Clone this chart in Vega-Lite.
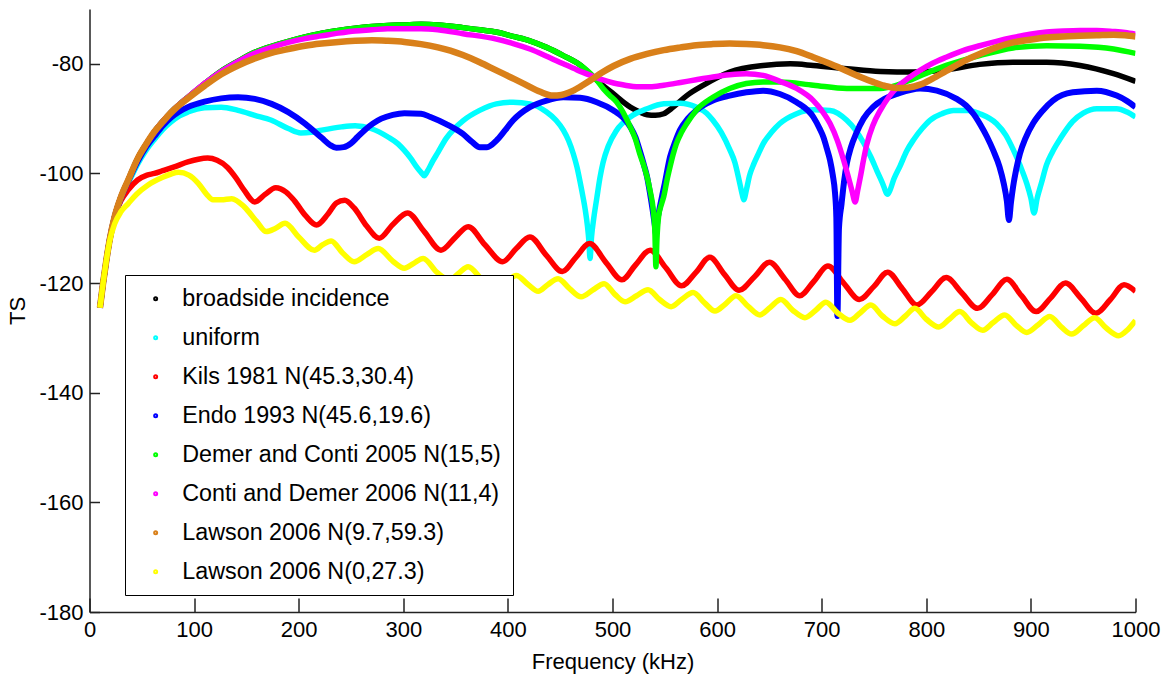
{
"$schema": "https://vega.github.io/schema/vega-lite/v6.json",
"width": 1046, "height": 603,
"autosize": {"type": "none"},
"padding": {"left": 89.5, "top": 9, "right": 35.5, "bottom": 67},
"background": "white",
"config": {
  "view": {"stroke": null},
  "font": "Liberation Sans",
  "axis": {"grid": false, "domainColor": "#222222", "tickColor": "#222222", "domainWidth": 1.5, "tickWidth": 1.5, "labelFont": "Liberation Sans", "labelFontSize": 22, "labelColor": "black", "titleFont": "Liberation Sans", "titleFontSize": 22, "titleFontWeight": "normal", "titleColor": "black", "labelOverlap": false, "labelFlush": false},
  "legend": {"orient": "none", "legendX": 35.5, "legendY": 266, "strokeColor": "black", "fillColor": "white", "padding": 12, "labelFont": "Liberation Sans", "labelFontSize": 23.3, "labelColor": "black", "labelLimit": 0, "symbolType": "circle", "symbolSize": 9, "symbolStrokeWidth": 2, "symbolOffset": 7, "labelOffset": 15, "rowPadding": 15, "cornerRadius": 0, "strokeWidth": 1}
},
"datasets": {
"black": [{"f":10,"t":-124.5},{"f":13,"t":-120},{"f":16,"t":-116},{"f":19.3,"t":-112.1},{"f":24,"t":-107.9},{"f":30,"t":-104.3},{"f":37,"t":-101.2},{"f":46,"t":-97.3},{"f":54,"t":-94.7},{"f":62,"t":-92.4},{"f":70,"t":-90.5},{"f":78,"t":-88.8},{"f":86,"t":-87.4},{"f":94,"t":-86.1},{"f":110,"t":-83.6},{"f":126,"t":-81.3},{"f":142,"t":-79.5},{"f":158,"t":-77.9},{"f":174,"t":-76.8},{"f":190,"t":-75.9},{"f":206,"t":-75.1},{"f":222,"t":-74.4},{"f":238,"t":-73.9},{"f":254,"t":-73.5},{"f":270,"t":-73.2},{"f":285,"t":-73},{"f":301,"t":-72.9},{"f":317,"t":-72.8},{"f":333,"t":-72.9},{"f":357,"t":-73.4},{"f":373,"t":-73.8},{"f":389,"t":-74.2},{"f":405,"t":-75},{"f":421,"t":-75.8},{"f":437,"t":-77},{"f":453,"t":-78.5},{"f":469,"t":-80.2},{"f":485,"t":-83},{"f":501,"t":-85.5},{"f":517,"t":-87.9},{"f":526,"t":-88.8},{"f":533,"t":-89.3},{"f":541,"t":-89.4},{"f":549,"t":-89.1},{"f":558,"t":-87.9},{"f":571,"t":-85.8},{"f":587,"t":-83.9},{"f":612,"t":-81.5},{"f":644,"t":-80.3},{"f":670,"t":-80},{"f":692,"t":-80.3},{"f":724,"t":-80.9},{"f":756,"t":-81.4},{"f":788,"t":-81.5},{"f":819,"t":-81.1},{"f":851,"t":-80.1},{"f":883,"t":-79.7},{"f":915,"t":-79.7},{"f":947,"t":-80.3},{"f":979,"t":-81.8},{"f":1000,"t":-83.2}],
"cyan": [{"f":10,"t":-124.5},{"f":13,"t":-120},{"f":16,"t":-116},{"f":19.3,"t":-112.1},{"f":24,"t":-108},{"f":30,"t":-104.6},{"f":37,"t":-101.8},{"f":46,"t":-98.3},{"f":54,"t":-95.8},{"f":62,"t":-93.8},{"f":70,"t":-92},{"f":78,"t":-90.6},{"f":86,"t":-89.5},{"f":94,"t":-88.8},{"f":110,"t":-88},{"f":126,"t":-87.9},{"f":142,"t":-88.5},{"f":158,"t":-89.4},{"f":174,"t":-90.3},{"f":190,"t":-91.8},{"f":202,"t":-92.6},{"f":212,"t":-92.5},{"f":222,"t":-92.1},{"f":241,"t":-91.5},{"f":254,"t":-91.3},{"f":269,"t":-91.8},{"f":285,"t":-93.3},{"f":295,"t":-94.6},{"f":301,"t":-95.8},{"f":307,"t":-97.2},{"f":312,"t":-98.6},{"f":317,"t":-99.8},{"f":320,"t":-100.4},{"f":323,"t":-99.6},{"f":328,"t":-97.8},{"f":333,"t":-96.2},{"f":341,"t":-93.6},{"f":349,"t":-91.8},{"f":357,"t":-90.4},{"f":373,"t":-88.5},{"f":389,"t":-87.3},{"f":405,"t":-87},{"f":421,"t":-87.3},{"f":437,"t":-88.8},{"f":446,"t":-90.3},{"f":453,"t":-92.1},{"f":458,"t":-94},{"f":462.5,"t":-96.4},{"f":466,"t":-98.8},{"f":469,"t":-101.5},{"f":472,"t":-104.5},{"f":474,"t":-106.7},{"f":476,"t":-109.5},{"f":477.5,"t":-112.5},{"f":478.5,"t":-115.5},{"f":480,"t":-111.5},{"f":482,"t":-108.3},{"f":485,"t":-104.5},{"f":488,"t":-100.8},{"f":491,"t":-98},{"f":496,"t":-95},{"f":504,"t":-92.1},{"f":517,"t":-89.7},{"f":533,"t":-88.2},{"f":549,"t":-87.3},{"f":565,"t":-87.2},{"f":580,"t":-87.9},{"f":590,"t":-89},{"f":596,"t":-90.3},{"f":604,"t":-92.5},{"f":612,"t":-95.6},{"f":617,"t":-98},{"f":621,"t":-101.2},{"f":624,"t":-103.8},{"f":625.5,"t":-104.8},{"f":628,"t":-103},{"f":631,"t":-100.4},{"f":635,"t":-98.3},{"f":640,"t":-96.2},{"f":644,"t":-94.6},{"f":652,"t":-92.5},{"f":660,"t":-90.9},{"f":676,"t":-89.1},{"f":692,"t":-88.4},{"f":708,"t":-88.5},{"f":724,"t":-90.3},{"f":732,"t":-92},{"f":740,"t":-94.4},{"f":747,"t":-97},{"f":753,"t":-99.6},{"f":758,"t":-101.7},{"f":763,"t":-103.8},{"f":765,"t":-103.2},{"f":769,"t":-101},{"f":775,"t":-98.6},{"f":781,"t":-96},{"f":788,"t":-93.8},{"f":796,"t":-91.8},{"f":803.5,"t":-90.3},{"f":815,"t":-89.1},{"f":826,"t":-88.5},{"f":840,"t":-88.5},{"f":851,"t":-89.1},{"f":867,"t":-90.9},{"f":876,"t":-93},{"f":883,"t":-95.6},{"f":890,"t":-98.7},{"f":896,"t":-101.8},{"f":900,"t":-104.5},{"f":903,"t":-107.2},{"f":906,"t":-104.5},{"f":910,"t":-101.8},{"f":915,"t":-98.4},{"f":920,"t":-96.3},{"f":925,"t":-94.6},{"f":932,"t":-92.5},{"f":940,"t":-90.5},{"f":950,"t":-89},{"f":963,"t":-88.2},{"f":982,"t":-88.2},{"f":992,"t":-88.8},{"f":1000,"t":-89.7}],
"red": [{"f":10,"t":-124.5},{"f":13,"t":-120},{"f":16,"t":-116},{"f":19.3,"t":-112.1},{"f":24,"t":-108.3},{"f":27,"t":-106.3},{"f":30,"t":-105},{"f":37,"t":-103},{"f":46,"t":-101.2},{"f":55,"t":-100.3},{"f":62,"t":-100},{"f":70,"t":-99.5},{"f":81,"t":-98.8},{"f":94,"t":-97.9},{"f":104,"t":-97.4},{"f":113,"t":-97.2},{"f":122,"t":-97.6},{"f":132,"t":-98.9},{"f":140,"t":-100.8},{"f":148,"t":-103.1},{"f":158,"t":-105.2},{"f":168,"t":-103.8},{"f":178,"t":-102.6},{"f":188,"t":-103.4},{"f":196,"t":-105},{"f":207,"t":-107.8},{"f":217,"t":-109.4},{"f":228,"t":-107.4},{"f":236,"t":-105.4},{"f":244,"t":-104.9},{"f":253,"t":-106.3},{"f":265,"t":-109.6},{"f":277,"t":-111.8},{"f":290,"t":-109.3},{"f":304,"t":-107.2},{"f":320,"t":-110.6},{"f":336,"t":-114},{"f":350,"t":-111.6},{"f":362,"t":-109.7},{"f":378,"t":-113},{"f":395,"t":-116.1},{"f":408,"t":-113.7},{"f":421,"t":-111.6},{"f":437,"t":-115},{"f":452,"t":-117.9},{"f":465,"t":-115.3},{"f":478,"t":-112.8},{"f":494,"t":-116.3},{"f":509,"t":-119.4},{"f":522,"t":-116.7},{"f":536,"t":-114},{"f":551,"t":-117.2},{"f":566,"t":-120.5},{"f":580,"t":-118},{"f":593,"t":-115.3},{"f":607,"t":-118.4},{"f":621,"t":-121.3},{"f":636,"t":-118.8},{"f":650,"t":-116.2},{"f":665,"t":-119.3},{"f":679,"t":-122.3},{"f":692,"t":-119.8},{"f":706,"t":-116.9},{"f":721,"t":-120},{"f":736,"t":-123},{"f":750,"t":-120.6},{"f":763,"t":-118},{"f":777,"t":-121},{"f":791,"t":-124},{"f":805,"t":-121.6},{"f":819,"t":-119},{"f":834,"t":-121.8},{"f":849,"t":-124.6},{"f":863,"t":-122.1},{"f":877,"t":-119.3},{"f":891,"t":-122.3},{"f":905,"t":-125.2},{"f":919,"t":-122.7},{"f":933,"t":-120},{"f":948,"t":-122.8},{"f":962,"t":-125.5},{"f":976,"t":-123},{"f":989,"t":-120.3},{"f":1000,"t":-121.5}],
"blue": [{"f":10,"t":-124.5},{"f":13,"t":-120},{"f":16,"t":-116},{"f":19.3,"t":-112.1},{"f":24,"t":-108},{"f":30,"t":-104.5},{"f":37,"t":-101.4},{"f":46,"t":-97.8},{"f":54,"t":-95.2},{"f":62,"t":-93.2},{"f":70,"t":-91.3},{"f":78,"t":-89.8},{"f":86,"t":-88.7},{"f":94,"t":-87.9},{"f":110,"t":-86.9},{"f":126,"t":-86.3},{"f":142,"t":-86.1},{"f":158,"t":-86.4},{"f":174,"t":-87.3},{"f":190,"t":-88.8},{"f":206,"t":-90.9},{"f":222,"t":-93.5},{"f":230,"t":-94.8},{"f":236,"t":-95.3},{"f":243,"t":-95.2},{"f":250,"t":-94.5},{"f":256,"t":-93.4},{"f":263,"t":-92.1},{"f":279,"t":-90},{"f":290,"t":-89.3},{"f":301,"t":-89},{"f":317,"t":-89.1},{"f":326,"t":-89.7},{"f":341,"t":-91},{"f":357,"t":-92.8},{"f":366,"t":-94.3},{"f":373,"t":-95.2},{"f":380,"t":-95.2},{"f":389,"t":-94},{"f":397,"t":-92.2},{"f":405,"t":-90.3},{"f":421,"t":-87.9},{"f":437,"t":-86.7},{"f":453,"t":-86.1},{"f":469,"t":-86.2},{"f":485,"t":-87},{"f":501,"t":-88.5},{"f":510,"t":-89.8},{"f":517,"t":-91.5},{"f":522,"t":-93.4},{"f":526,"t":-95.8},{"f":530,"t":-98.4},{"f":533,"t":-100.6},{"f":536,"t":-103.8},{"f":538.5,"t":-106.8},{"f":540.5,"t":-109.5},{"f":541.5,"t":-111},{"f":543,"t":-108.5},{"f":545.4,"t":-106},{"f":548,"t":-103.6},{"f":550,"t":-101.8},{"f":555,"t":-97},{"f":560,"t":-94.2},{"f":564.5,"t":-92.1},{"f":572,"t":-90},{"f":580,"t":-88.5},{"f":596,"t":-86.7},{"f":612,"t":-85.8},{"f":628,"t":-85.2},{"f":644,"t":-84.9},{"f":660,"t":-85.5},{"f":676,"t":-87},{"f":692,"t":-89.7},{"f":698,"t":-91.8},{"f":701.5,"t":-93.3},{"f":705,"t":-95.5},{"f":708,"t":-97.6},{"f":710.5,"t":-100.2},{"f":712.7,"t":-103.5},{"f":714,"t":-108},{"f":715,"t":-126},{"f":716.5,"t":-110},{"f":719,"t":-105.5},{"f":721.5,"t":-101.3},{"f":724,"t":-98.2},{"f":728,"t":-95.2},{"f":733,"t":-92.7},{"f":740,"t":-90},{"f":749,"t":-87.9},{"f":760,"t":-86.4},{"f":772,"t":-85.5},{"f":794,"t":-84.5},{"f":810,"t":-84.9},{"f":829,"t":-86.4},{"f":838,"t":-87.6},{"f":845,"t":-89.1},{"f":852,"t":-91.2},{"f":858,"t":-93.3},{"f":864,"t":-95.8},{"f":870,"t":-98.8},{"f":874,"t":-101.8},{"f":877,"t":-105},{"f":879,"t":-108.5},{"f":881,"t":-105.2},{"f":883,"t":-102.4},{"f":886,"t":-99.2},{"f":889.5,"t":-96.4},{"f":895,"t":-93.5},{"f":902,"t":-90.9},{"f":911,"t":-88.6},{"f":921,"t":-86.7},{"f":930,"t":-85.7},{"f":940,"t":-85.2},{"f":963,"t":-84.9},{"f":982,"t":-85.8},{"f":992,"t":-86.8},{"f":1000,"t":-87.9}],
"green": [{"f":10,"t":-124.5},{"f":13,"t":-120},{"f":16,"t":-116},{"f":19.3,"t":-112.1},{"f":24,"t":-107.9},{"f":30,"t":-104.3},{"f":37,"t":-101.2},{"f":46,"t":-97.3},{"f":54,"t":-94.7},{"f":62,"t":-92.4},{"f":70,"t":-90.5},{"f":78,"t":-88.8},{"f":86,"t":-87.4},{"f":94,"t":-86.1},{"f":110,"t":-83.6},{"f":126,"t":-81.3},{"f":142,"t":-79.5},{"f":158,"t":-77.9},{"f":174,"t":-76.8},{"f":190,"t":-75.9},{"f":206,"t":-75.1},{"f":222,"t":-74.4},{"f":238,"t":-73.9},{"f":254,"t":-73.5},{"f":270,"t":-73.2},{"f":285,"t":-73},{"f":301,"t":-72.9},{"f":317,"t":-72.8},{"f":333,"t":-72.9},{"f":357,"t":-73.4},{"f":373,"t":-73.8},{"f":389,"t":-74.2},{"f":405,"t":-75},{"f":421,"t":-75.8},{"f":437,"t":-77},{"f":453,"t":-78.5},{"f":469,"t":-80.2},{"f":485,"t":-83},{"f":491,"t":-84.5},{"f":497,"t":-85.7},{"f":504,"t":-87},{"f":510,"t":-88.8},{"f":517,"t":-91.5},{"f":522,"t":-93.8},{"f":526,"t":-96.4},{"f":530,"t":-98.6},{"f":533,"t":-100.6},{"f":536,"t":-103.2},{"f":539,"t":-106.7},{"f":540.5,"t":-110.5},{"f":541.5,"t":-117},{"f":542.5,"t":-112},{"f":544,"t":-108},{"f":547,"t":-105.5},{"f":549,"t":-104.2},{"f":552,"t":-101.3},{"f":555,"t":-98.8},{"f":558,"t":-96.5},{"f":561,"t":-94.6},{"f":566,"t":-92.5},{"f":571,"t":-90.9},{"f":580,"t":-88.5},{"f":596,"t":-86.1},{"f":612,"t":-84.5},{"f":628,"t":-83.6},{"f":644,"t":-83.3},{"f":660,"t":-83.3},{"f":692,"t":-83.9},{"f":724,"t":-84.5},{"f":756,"t":-84.5},{"f":772,"t":-83.9},{"f":788,"t":-82.7},{"f":819,"t":-80.3},{"f":851,"t":-78.5},{"f":883,"t":-77.1},{"f":915,"t":-76.7},{"f":947,"t":-76.8},{"f":979,"t":-77.3},{"f":1000,"t":-78.1}],
"magenta": [{"f":10,"t":-124.5},{"f":13,"t":-120},{"f":16,"t":-116},{"f":19.3,"t":-112.1},{"f":24,"t":-107.9},{"f":30,"t":-104.3},{"f":37,"t":-101.2},{"f":46,"t":-97.3},{"f":54,"t":-94.7},{"f":62,"t":-92.4},{"f":70,"t":-90.5},{"f":78,"t":-88.8},{"f":86,"t":-87.4},{"f":94,"t":-86.1},{"f":110,"t":-83.6},{"f":126,"t":-81.4},{"f":142,"t":-79.6},{"f":158,"t":-78.1},{"f":174,"t":-77},{"f":190,"t":-76.1},{"f":206,"t":-75.4},{"f":222,"t":-74.9},{"f":238,"t":-74.4},{"f":254,"t":-74},{"f":270,"t":-73.8},{"f":285,"t":-73.6},{"f":301,"t":-73.6},{"f":317,"t":-73.6},{"f":333,"t":-73.8},{"f":357,"t":-74.5},{"f":389,"t":-75.5},{"f":405,"t":-76.3},{"f":421,"t":-77.3},{"f":437,"t":-78.6},{"f":453,"t":-80},{"f":466,"t":-81.1},{"f":479,"t":-82.1},{"f":490,"t":-82.9},{"f":501,"t":-83.5},{"f":512,"t":-83.9},{"f":523,"t":-84.2},{"f":536,"t":-84.2},{"f":549,"t":-83.9},{"f":565,"t":-83.4},{"f":580,"t":-82.9},{"f":596,"t":-82.4},{"f":612,"t":-82},{"f":628,"t":-81.8},{"f":644,"t":-82.1},{"f":660,"t":-83.2},{"f":676,"t":-84.5},{"f":692,"t":-86.7},{"f":700,"t":-88.5},{"f":708,"t":-90.9},{"f":715,"t":-94},{"f":721,"t":-97.6},{"f":725,"t":-100.3},{"f":729,"t":-103.2},{"f":732,"t":-105.2},{"f":734.5,"t":-103},{"f":737,"t":-100.6},{"f":740,"t":-97.5},{"f":743,"t":-94.8},{"f":749,"t":-91.2},{"f":756,"t":-88.5},{"f":764,"t":-86.1},{"f":772,"t":-84.3},{"f":783,"t":-82.6},{"f":794,"t":-81.2},{"f":806,"t":-79.9},{"f":819,"t":-78.8},{"f":835,"t":-77.6},{"f":851,"t":-76.7},{"f":867,"t":-75.9},{"f":883,"t":-75.2},{"f":899,"t":-74.6},{"f":915,"t":-74.2},{"f":931,"t":-74},{"f":947,"t":-73.9},{"f":963,"t":-73.9},{"f":979,"t":-74.1},{"f":990,"t":-74.3},{"f":1000,"t":-74.6}],
"orange": [{"f":10,"t":-124.5},{"f":13,"t":-120},{"f":16,"t":-116},{"f":19.3,"t":-112.1},{"f":24,"t":-107.9},{"f":30,"t":-104.3},{"f":37,"t":-101.2},{"f":46,"t":-97.3},{"f":54,"t":-94.7},{"f":62,"t":-92.4},{"f":70,"t":-90.6},{"f":78,"t":-88.9},{"f":86,"t":-87.5},{"f":94,"t":-86.3},{"f":110,"t":-84},{"f":126,"t":-81.9},{"f":142,"t":-80.3},{"f":158,"t":-79},{"f":174,"t":-78},{"f":190,"t":-77.3},{"f":206,"t":-76.7},{"f":222,"t":-76.3},{"f":238,"t":-76},{"f":254,"t":-75.8},{"f":270,"t":-75.7},{"f":285,"t":-75.8},{"f":301,"t":-76},{"f":317,"t":-76.4},{"f":333,"t":-77},{"f":345,"t":-77.6},{"f":357,"t":-78.4},{"f":373,"t":-79.7},{"f":389,"t":-81.2},{"f":402,"t":-82.4},{"f":415,"t":-83.6},{"f":431,"t":-85.1},{"f":443,"t":-85.8},{"f":451,"t":-85.7},{"f":459,"t":-85.2},{"f":469,"t":-84.2},{"f":479,"t":-83},{"f":490,"t":-81.6},{"f":501,"t":-80.4},{"f":517,"t":-79.1},{"f":533,"t":-78.2},{"f":549,"t":-77.5},{"f":565,"t":-77},{"f":580,"t":-76.6},{"f":596,"t":-76.4},{"f":612,"t":-76.3},{"f":628,"t":-76.4},{"f":644,"t":-76.6},{"f":660,"t":-77},{"f":676,"t":-77.7},{"f":692,"t":-78.8},{"f":708,"t":-80},{"f":724,"t":-81.3},{"f":737,"t":-82.4},{"f":749,"t":-83.3},{"f":760,"t":-84},{"f":772,"t":-84.4},{"f":783,"t":-84.3},{"f":794,"t":-83.8},{"f":806,"t":-82.7},{"f":819,"t":-81.3},{"f":835,"t":-79.6},{"f":851,"t":-78.2},{"f":867,"t":-77},{"f":883,"t":-76.1},{"f":899,"t":-75.6},{"f":915,"t":-75.2},{"f":931,"t":-75},{"f":947,"t":-74.9},{"f":963,"t":-74.8},{"f":979,"t":-74.7},{"f":990,"t":-74.8},{"f":1000,"t":-75}],
"yellow": [{"f":10,"t":-124.5},{"f":13,"t":-120},{"f":16,"t":-116},{"f":19.3,"t":-112.3},{"f":24,"t":-109.2},{"f":30,"t":-107},{"f":37,"t":-105.5},{"f":45,"t":-103.8},{"f":56,"t":-102.1},{"f":70,"t":-100.7},{"f":78,"t":-100.1},{"f":85,"t":-99.8},{"f":95,"t":-100.3},{"f":104,"t":-101.8},{"f":112,"t":-103.8},{"f":118,"t":-104.8},{"f":126,"t":-104.8},{"f":136,"t":-104.6},{"f":148,"t":-106.1},{"f":160,"t":-108.8},{"f":169,"t":-110.6},{"f":178,"t":-110},{"f":187,"t":-109.1},{"f":200,"t":-111.6},{"f":215,"t":-114},{"f":223,"t":-113},{"f":231,"t":-112.3},{"f":242,"t":-114.5},{"f":253,"t":-116.1},{"f":265,"t":-114.8},{"f":276,"t":-113.7},{"f":290,"t":-116},{"f":301,"t":-117.3},{"f":310,"t":-116.4},{"f":319,"t":-115.5},{"f":332,"t":-118},{"f":344,"t":-119.4},{"f":353,"t":-118.2},{"f":362,"t":-117},{"f":375,"t":-119.3},{"f":387,"t":-120.9},{"f":398,"t":-119.8},{"f":408,"t":-118.6},{"f":419,"t":-120.2},{"f":429,"t":-121.5},{"f":438,"t":-120.3},{"f":448,"t":-119.2},{"f":459,"t":-121},{"f":470,"t":-122.5},{"f":481,"t":-121.3},{"f":492,"t":-120.1},{"f":502,"t":-122},{"f":512,"t":-123.4},{"f":523,"t":-122.3},{"f":534,"t":-121.2},{"f":545,"t":-123},{"f":556,"t":-124.3},{"f":566,"t":-123},{"f":577,"t":-121.7},{"f":588,"t":-123.6},{"f":598,"t":-125.1},{"f":608,"t":-123.8},{"f":618,"t":-122.3},{"f":630,"t":-124.3},{"f":641,"t":-125.8},{"f":651,"t":-124.4},{"f":661,"t":-123},{"f":672,"t":-124.9},{"f":684,"t":-126.3},{"f":694,"t":-125},{"f":704,"t":-123.5},{"f":715,"t":-125.4},{"f":727,"t":-126.8},{"f":737,"t":-125.4},{"f":747,"t":-124},{"f":758,"t":-126},{"f":770,"t":-127.4},{"f":780,"t":-126},{"f":789,"t":-124.6},{"f":800,"t":-126.6},{"f":812,"t":-128},{"f":822,"t":-126.6},{"f":832,"t":-125.2},{"f":843,"t":-127.2},{"f":854,"t":-128.6},{"f":864,"t":-127.2},{"f":875,"t":-125.8},{"f":886,"t":-127.7},{"f":896,"t":-129},{"f":907,"t":-127.6},{"f":918,"t":-126.1},{"f":929,"t":-128},{"f":939,"t":-129.3},{"f":950,"t":-127.8},{"f":961,"t":-126.3},{"f":972,"t":-128.2},{"f":984,"t":-129.6},{"f":992,"t":-128.6},{"f":1000,"t":-126.8}]
},
"encoding": {
  "x": {"field": "f", "type": "quantitative", "scale": {"domain": [0, 1000], "nice": false, "zero": false}, "axis": {"title": "Frequency (kHz)", "values": [0,100,200,300,400,500,600,700,800,900,1000], "labelExpr": "toString(datum.value)", "tickSize": -14, "labelPadding": 21, "titlePadding": 11}},
  "y": {"field": "t", "type": "quantitative", "scale": {"domain": [-180, -70], "nice": false, "zero": false}, "axis": {"title": "TS", "values": [-180,-160,-140,-120,-100,-80], "labelExpr": "toString(datum.value)", "tickSize": -10, "labelPadding": 16.5, "titlePadding": 9}}
},
"layer": [
  {"data": {"name": "black"}, "mark": {"type": "line", "strokeWidth": 5.5, "interpolate": "monotone", "clip": true}, "encoding": {"color": {"datum": "broadside incidence", "scale": {"domain": ["broadside incidence", "uniform", "Kils 1981 N(45.3,30.4)", "Endo 1993 N(45.6,19.6)", "Demer and Conti 2005 N(15,5)", "Conti and Demer 2006 N(11,4)", "Lawson 2006 N(9.7,59.3)", "Lawson 2006 N(0,27.3)"], "range": ["#000000", "#00ffff", "#ff0000", "#0000ff", "#00ff00", "#ff00ff", "#d9801a", "#ffff00"]}, "legend": {"title": null}}}},
  {"data": {"name": "cyan"}, "mark": {"type": "line", "strokeWidth": 5.5, "interpolate": "monotone", "clip": true}, "encoding": {"color": {"datum": "uniform"}}},
  {"data": {"name": "red"}, "mark": {"type": "line", "strokeWidth": 5.5, "interpolate": "monotone", "clip": true}, "encoding": {"color": {"datum": "Kils 1981 N(45.3,30.4)"}}},
  {"data": {"name": "blue"}, "mark": {"type": "line", "strokeWidth": 6, "interpolate": "monotone", "clip": true}, "encoding": {"color": {"datum": "Endo 1993 N(45.6,19.6)"}}},
  {"data": {"name": "green"}, "mark": {"type": "line", "strokeWidth": 5.5, "interpolate": "monotone", "clip": true}, "encoding": {"color": {"datum": "Demer and Conti 2005 N(15,5)"}}},
  {"data": {"name": "magenta"}, "mark": {"type": "line", "strokeWidth": 5.5, "interpolate": "monotone", "clip": true}, "encoding": {"color": {"datum": "Conti and Demer 2006 N(11,4)"}}},
  {"data": {"name": "orange"}, "mark": {"type": "line", "strokeWidth": 6.5, "interpolate": "monotone", "clip": true}, "encoding": {"color": {"datum": "Lawson 2006 N(9.7,59.3)"}}},
  {"data": {"name": "yellow"}, "mark": {"type": "line", "strokeWidth": 5.5, "interpolate": "monotone", "clip": true}, "encoding": {"color": {"datum": "Lawson 2006 N(0,27.3)"}}}
]
}
